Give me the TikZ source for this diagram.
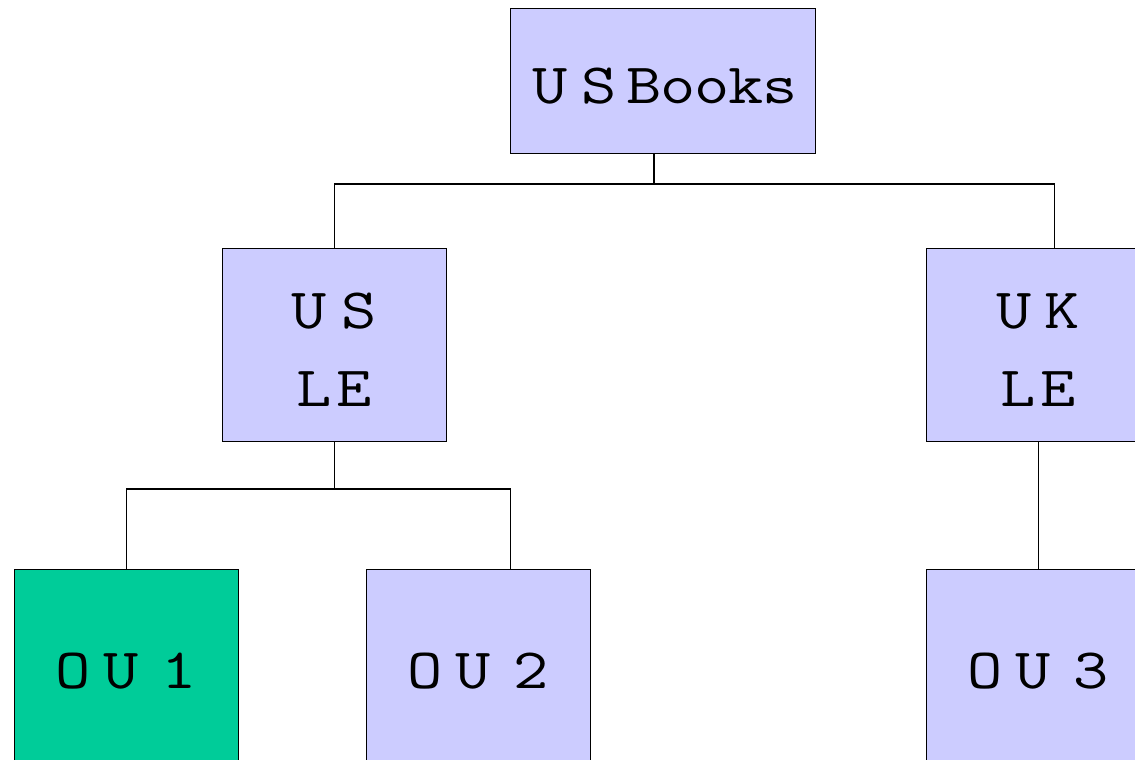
\documentclass[tikz,border=0pt]{standalone}
\usepackage{fontspec}
\usepackage{graphicx}
\definecolor{lav}{HTML}{CCCCFF}
\definecolor{grn}{HTML}{00CC99}
\newcommand\wide[1]{\scalebox{1.2}[1]{#1}}
\begin{document}
\begin{tikzpicture}[x=1pt,y=-1pt,
  box/.style={draw=black,line width=1.4pt,fill=lav,anchor=north west,inner sep=0pt,
    minimum width=224pt,minimum height=193pt},
  lbl/.style={anchor=north west,inner sep=0pt,minimum width=224pt,align=center,
    font=\ttfamily\fontsize{57}{78}\selectfont},
  link/.style={draw=black,line width=1.4pt}]
\useasboundingbox (0,0) rectangle (1135,760);
\clip (0,0) rectangle (1135,760);
\fill[white] (0,0) rectangle (1135,760);
\node[box,minimum width=305pt,minimum height=145pt] (usb) at (510,8) {};
\node[lbl,minimum width=305pt,minimum height=156pt] (usbt) at (512,8)
  {\wide{U\kern11.8pt S\ \kern-20.7pt B\kern-1.2pt o\kern-1.2pt o\kern-1.2pt k\kern-1.2pt s}};
\node[box] (usle) at (222,248) {};
\node[lbl,minimum height=203pt] (uslet) at (222,248) {\wide{U\kern11.8pt S}\\\wide{L\kern3.4pt E}};
\node[box] (ukle) at (926,248) {};
\node[lbl,minimum height=203pt] (uklet) at (926,248) {\wide{U\kern10.9pt K}\\\wide{L\kern3.4pt E}};
\node[box,fill=grn,minimum height=204pt] (ou1) at (14,569) {};
\node[lbl,minimum height=204pt] (ou1t) at (14,569) {\wide{O\kern10.9pt U\ \kern-10.7pt 1}};
\node[box,minimum height=204pt] (ou2) at (366,569) {};
\node[lbl,minimum height=204pt] (ou2t) at (366,569) {\wide{O\kern10.9pt U\ \kern-10.7pt 2}};
\node[box,minimum height=204pt] (ou3) at (926,569) {};
\node[lbl,minimum height=204pt] (ou3t) at (926,569) {\wide{O\kern10.9pt U\ \kern-10.7pt 3}};
\coordinate (b1) at (654,184);
\coordinate (b2) at (334,489);
\draw[link] (b1 |- usb.south) -- (b1);
\draw[link] (usle.north) |- (b1) -| ([xshift=16pt]ukle.north);
\draw[link] (usle.south) -- (usle.south |- b2);
\draw[link] (ou1.north) |- (b2) -| ([xshift=32pt]ou2.north);
\draw[link] (ukle.south) -- (ou3.north);
\end{tikzpicture}
\end{document}
